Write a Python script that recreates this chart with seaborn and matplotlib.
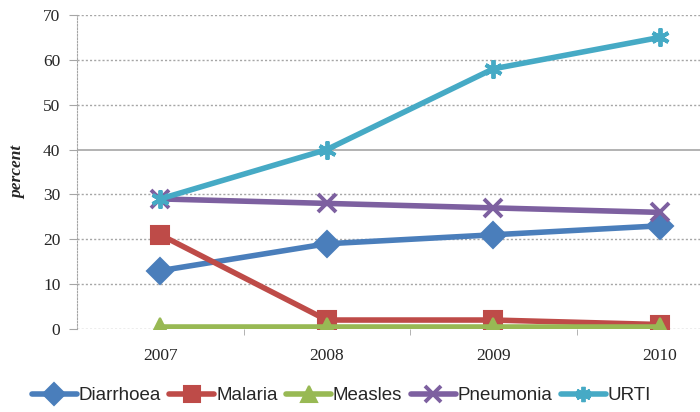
import matplotlib
matplotlib.use("Agg")
import matplotlib.pyplot as plt
import seaborn as sns
import pandas as pd

# =============================
# DATA
# =============================
years = ["2007", "2008", "2009", "2010"]
diarrhoea = [13, 19, 21, 23]
malaria = [21, 2, 2, 1]
measles = [0.5, 0.5, 0.5, 0.5]
pneumonia = [29, 28, 27, 26]
urti = [29, 40, 58, 65]

series_names = ["Diarrhoea", "Malaria", "Measles", "Pneumonia", "URTI"]
series_values = [diarrhoea, malaria, measles, pneumonia, urti]
colors = ["#4a7ebb", "#be4b48", "#98b954", "#7d60a0", "#46aac5"]
markers = ["D", "s", "^", "x", (6, 2, 0)]

# =============================
# PLOT
# =============================
sns.set_style("white")

fig = plt.figure(figsize=(7, 4.12), dpi=100)
ax = fig.add_axes([77 / 700, 1 - 329 / 412, (743 - 77) / 700, (329 - 15) / 412])

# gridlines
for yv in range(0, 80, 10):
    if yv == 40:
        ax.axhline(yv, color="#a6a6a6", lw=1.2, ls="-", zorder=0)
    else:
        ax.axhline(yv, color="#a6a6a6", lw=1.0, ls=(0, (1.5, 1.5)), zorder=0)

handles = []
for name, vals, c, m in zip(series_names, series_values, colors, markers):
    mew = 2.8 if m in ("x", (6, 2, 0)) else 1.5
    d = pd.DataFrame({"pos": range(len(years)), "value": vals})
    sns.lineplot(data=d, x="pos", y="value", color=c, linewidth=4,
                 marker=m, markersize=13, markeredgecolor=c,
                 markeredgewidth=mew, ax=ax, zorder=3)
    handles.append(plt.Line2D([], [], color=c, lw=4, marker=m, markersize=11,
                              markeredgecolor=c, markeredgewidth=mew))

ax.set_xlim(-0.5, 3.5)
ax.set_ylim(0, 70)
ax.set_xticks(range(len(years)))
ax.set_xticklabels(years)
ax.set_xticks([0.5, 1.5, 2.5], minor=True)
ax.set_yticks(range(0, 80, 10))

for s in ["top", "right", "bottom"]:
    ax.spines[s].set_visible(False)
ax.spines["left"].set_color("#a6a6a6")
ax.spines["left"].set_linestyle((0, (1.5, 1.5)))

ax.tick_params(axis="y", which="major", length=6, color="#a6a6a6", pad=6,
               labelsize=12.5, left=True)
ax.tick_params(axis="x", which="major", length=0, pad=14, labelsize=12.5)
ax.tick_params(axis="x", which="minor", length=4, color="#a6a6a6", bottom=True)
for lab in ax.get_xticklabels() + ax.get_yticklabels():
    lab.set_fontfamily("Liberation Serif")

ax.set_xlabel("")
ax.set_ylabel("percent", fontfamily="Liberation Serif", fontstyle="italic",
              fontweight="bold", fontsize=12.5, labelpad=12)

# legend
fig.legend(handles, series_names, loc="center left", bbox_to_anchor=(0.045, 0.04),
           ncol=5, frameon=False, handlelength=2.4, columnspacing=0.45,
           handletextpad=0.1, borderpad=0.0, borderaxespad=0.0,
           prop={"family": "Liberation Sans", "size": 13.5})

fig.savefig("out.png", dpi=100)
